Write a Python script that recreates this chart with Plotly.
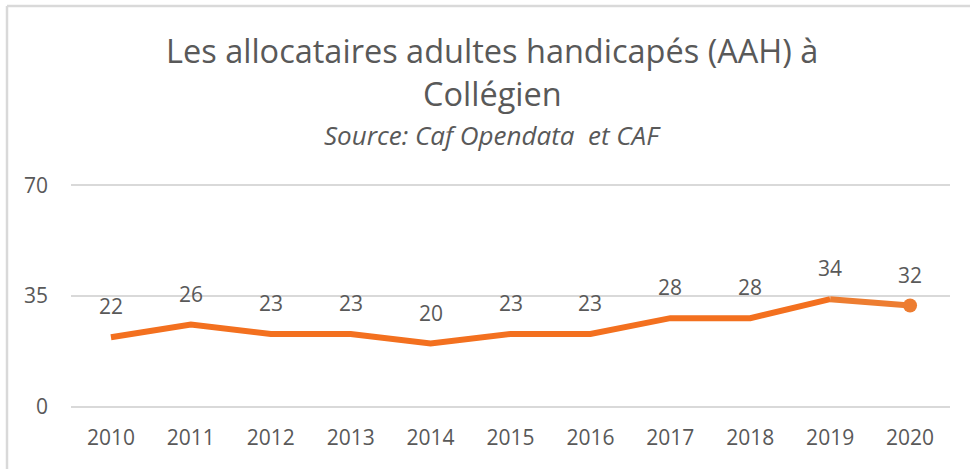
import plotly.graph_objects as go

years = ["2010", "2011", "2012", "2013", "2014", "2015", "2016", "2017", "2018", "2019", "2020"]
allocataires = [22, 26, 23, 23, 20, 23, 23, 28, 28, 34, 32]
y_ticks = [0, 35, 70]

LINE_COLOR = "#F3701F"
LAST_COLOR = "#ED7D31"
TEXT_COLOR = "#595959"
GRID_COLOR = "#D9D9D9"
FONT = "Open Sans"

# plot area geometry in pixels (used to place title and frame in paper units)
PLOT_TOP, PLOT_BOTTOM, PLOT_LEFT, PLOT_RIGHT = 182, 410, 71, 950
def py(p):
    return (PLOT_BOTTOM - p) / (PLOT_BOTTOM - PLOT_TOP)
def px(p):
    return (p - PLOT_LEFT) / (PLOT_RIGHT - PLOT_LEFT)

fig = go.Figure()

# main series line (all but the last segment)
fig.add_trace(go.Scatter(
    x=years[:-1], y=allocataires[:-1], mode="lines",
    line=dict(color=LINE_COLOR, width=6), hoverinfo="x+y", showlegend=False,
))
# last segment, lighter tone
fig.add_trace(go.Scatter(
    x=years[-2:], y=allocataires[-2:], mode="lines",
    line=dict(color=LAST_COLOR, width=6), hoverinfo="x+y", showlegend=False,
))
# end marker on the latest year
fig.add_trace(go.Scatter(
    x=years[-1:], y=allocataires[-1:], mode="markers",
    marker=dict(color=LAST_COLOR, size=14, opacity=1, line=dict(width=0)),
    hoverinfo="x+y", showlegend=False,
))

# value labels above each point (category index positions)
for i, v in enumerate(allocataires):
    fig.add_annotation(x=i, y=v, text=str(v), showarrow=False,
                       yshift=31, font=dict(family=FONT, size=21, color=TEXT_COLOR))

# title block
fig.add_annotation(xref="paper", yref="paper", x=px(492), y=py(50),
                   text="Les allocataires adultes handicapés (AAH) à",
                   showarrow=False, yanchor="middle", font=dict(family=FONT, size=32.5, color=TEXT_COLOR))
fig.add_annotation(xref="paper", yref="paper", x=px(492), y=py(93), text="Collégien",
                   showarrow=False, yanchor="middle", font=dict(family=FONT, size=32.5, color=TEXT_COLOR))
fig.add_annotation(xref="paper", yref="paper", x=px(492), y=py(135),
                   text="<i>Source: Caf Opendata  et CAF</i>",
                   showarrow=False, yanchor="middle", font=dict(family=FONT, size=26, color=TEXT_COLOR))

# frame lines (top and left edges)
fig.add_shape(type="line", xref="paper", yref="paper", x0=px(7), x1=px(975), y0=py(6), y1=py(6),
              line=dict(color=GRID_COLOR, width=2.5))
fig.add_shape(type="line", xref="paper", yref="paper", x0=px(7), x1=px(7), y0=py(6), y1=py(475),
              line=dict(color=GRID_COLOR, width=2.5))

fig.update_layout(
    width=970, height=469,
    margin=dict(l=PLOT_LEFT, r=970 - PLOT_RIGHT, t=PLOT_TOP, b=469 - PLOT_BOTTOM),
    paper_bgcolor="white", plot_bgcolor="white",
    font=dict(family=FONT, size=21, color=TEXT_COLOR),
    xaxis=dict(type="category", range=[-0.5, len(years) - 0.5], showgrid=False, showline=False,
               zeroline=False, ticks="",
               tickfont=dict(family=FONT, size=21, color=TEXT_COLOR), ticklabelstandoff=13),
    yaxis=dict(range=[-1, 71], tickvals=y_ticks, showgrid=True, gridcolor=GRID_COLOR, gridwidth=2,
               zeroline=False, showline=False, ticks="",
               tickfont=dict(family=FONT, size=21, color=TEXT_COLOR), ticklabelstandoff=22),
)

fig.write_html("out.html")
